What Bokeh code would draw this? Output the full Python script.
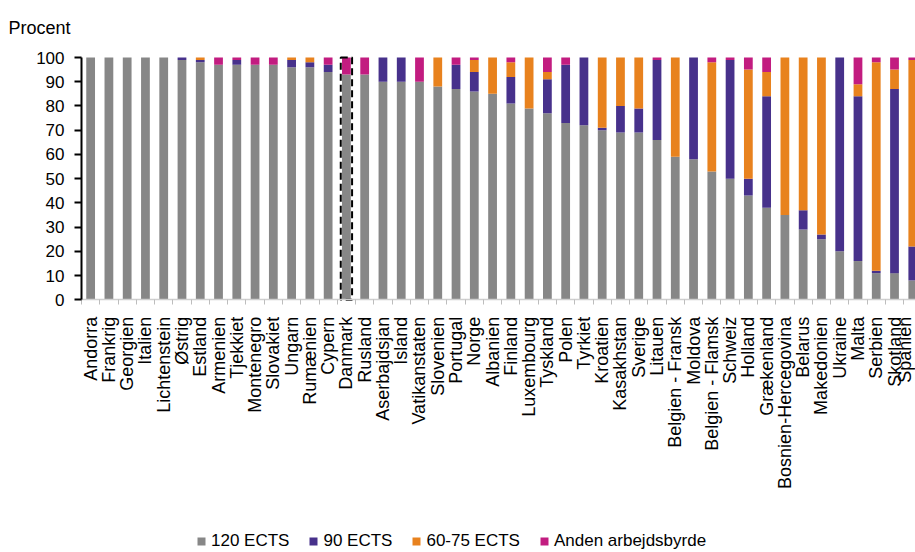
import math
from bokeh.plotting import figure
from bokeh.models import (ColumnDataSource, Range1d, FixedTicker, CustomJSTickFormatter,
                          Legend, LegendItem, Label)
from bokeh.embed import file_html
from bokeh.resources import INLINE

countries = ["Andorra", "Frankrig", "Georgien", "Italien", "Lichtenstein", "Østrig", "Estland",
             "Armenien", "Tjekkiet", "Montenegro", "Slovakiet", "Ungarn", "Rumænien", "Cypern",
             "Danmark", "Rusland", "Aserbajdsjan", "Island", "Vatikanstaten", "Slovenien",
             "Portugal", "Norge", "Albanien", "Finland", "Luxembourg", "Tyskland", "Polen",
             "Tyrkiet", "Kroatien", "Kasakhstan", "Sverige", "Litauen", "Belgien - Fransk",
             "Moldova", "Belgien - Flamsk", "Schweiz", "Holland", "Grækenland",
             "Bosnien-Hercegovina", "Belarus", "Makedonien", "Ukraine", "Malta", "Serbien",
             "Skotland", "Spanien"]

ects120 = [100, 100, 100, 100, 100, 99, 98, 97, 97, 97, 97, 96, 96, 94, 93, 93, 90, 90, 90, 88,
           87, 86, 85, 81, 79, 77, 73, 72, 70, 69, 69, 66, 59, 58, 53, 50, 43, 38, 35, 29, 25,
           20, 16, 11, 11, 8]
ects90 = [0, 0, 0, 0, 0, 1, 1, 0, 2, 0, 0, 3, 2, 3, 0, 0, 10, 10, 0, 0, 10, 8, 0, 11, 0, 14, 24,
          28, 1, 11, 10, 33, 0, 42, 0, 49, 7, 46, 0, 8, 2, 80, 68, 1, 76, 14]
ects60_75 = [0, 0, 0, 0, 0, 0, 1, 0, 0, 0, 0, 1, 2, 0, 0, 0, 0, 0, 0, 12, 0, 5, 15, 6, 21, 3, 0,
             0, 29, 20, 21, 0, 41, 0, 45, 0, 45, 10, 65, 63, 73, 0, 5, 86, 8, 77]
anden = [0, 0, 0, 0, 0, 0, 0, 3, 1, 3, 3, 0, 0, 3, 7, 7, 0, 0, 10, 0, 3, 1, 0, 2, 0, 6, 3, 0, 0,
         0, 0, 1, 0, 0, 2, 1, 5, 6, 0, 0, 0, 0, 11, 2, 5, 1]

series_labels = ["120 ECTS", "90 ECTS", "60-75 ECTS", "Anden arbejdsbyrde"]
colors = ["#878787", "#47318B", "#E8821E", "#C21C80"]
highlight = "Danmark"
y_ticks = list(range(0, 101, 10))
y_title = "Procent"

n = len(countries)
xs = [i + 0.5 for i in range(n)]
totals = [a + b + c + d for a, b, c, d in zip(ects120, ects90, ects60_75, anden)]

src = ColumnDataSource(dict(x=xs, s0=ects120, s1=ects90, s2=ects60_75, s3=anden))

FONT = "Liberation Sans"

# layout: the frame covers the whole canvas; both axes are pinned at 0 so that the
# rotated labels, the "Procent" caption and the legend all live inside the frame.
W, H = 915, 552
AX_X, AX_Y0, AX_Y100 = 81, 299.3, 57          # pixel position of x=0, y=0 and y=100
PITCH = 18.27                                   # pixels per category
ky = (AX_Y0 - AX_Y100) / 100.0
x_range = Range1d(-AX_X / PITCH, (W - AX_X) / PITCH)
y_range = Range1d(-(H - AX_Y0) / ky, 100 + AX_Y100 / ky)

p = figure(width=W, height=H, output_backend="svg", toolbar_location=None, title=None,
           x_range=x_range, y_range=y_range, min_border=0)
p.background_fill_color = "white"
p.border_fill_color = "white"
p.outline_line_color = None
p.xgrid.visible = False
p.ygrid.visible = False

rs = p.vbar_stack(["s0", "s1", "s2", "s3"], x="x", width=0.48, source=src,
                  fill_color=colors, line_color=None)

hi = countries.index(highlight)
hsrc = ColumnDataSource(dict(x=[xs[hi]], top=[totals[hi]]))
p.vbar(x="x", top="top", bottom=0, width=0.62, source=hsrc, fill_color=None,
       line_color="black", line_width=2, line_dash="7 4")

# x axis
xa = p.xaxis[0]
xa.fixed_location = 0
xa.bounds = (0, n)
xa.ticker = FixedTicker(ticks=xs, minor_ticks=list(range(n + 1)))
xa.formatter = CustomJSTickFormatter(args=dict(labels=countries), code="""
const i = Math.floor(tick);
return (i >= 0 && i < labels.length) ? labels[i] : '';
""")
xa.major_label_orientation = math.pi / 2
xa.major_tick_out = 0
xa.major_tick_in = 0
xa.minor_tick_out = 5
xa.minor_tick_in = 0
xa.minor_tick_line_color = "#bdbdbd"
xa.axis_line_color = "#cfcfcf"
xa.axis_line_width = 1.5
xa.major_label_standoff = 12
xa.major_label_text_font_size = "18px"
xa.major_label_text_font = FONT
xa.major_label_text_color = "black"

# y axis
ya = p.yaxis[0]
ya.fixed_location = 0
ya.bounds = (0, 100)
ya.ticker = FixedTicker(ticks=y_ticks)
ya.axis_line_color = "black"
ya.axis_line_width = 2
ya.major_tick_line_color = "black"
ya.major_tick_line_width = 2
ya.major_tick_out = 7
ya.major_tick_in = 0
ya.minor_tick_line_color = None
ya.major_label_standoff = 10
ya.major_label_text_font_size = "17px"
ya.major_label_text_font = FONT
ya.major_label_text_color = "black"

# caption "Procent" at the top left
p.add_layout(Label(x=8, y=H - 27.5, x_units="screen", y_units="screen", text=y_title,
                   text_font=FONT, text_font_size="18px", text_color="black",
                   text_baseline="alphabetic", text_align="left"))

legend = Legend(items=[LegendItem(label=l, renderers=[r]) for l, r in zip(series_labels, rs)],
                location=(196, 1), orientation="horizontal", padding=0, margin=0,
                border_line_color=None, background_fill_alpha=0,
                glyph_width=10, glyph_height=10, label_standoff=5, spacing=19,
                label_text_font=FONT, label_text_font_size="17px", label_text_color="black")
p.add_layout(legend)

open("out.html", "w").write(file_html(p, INLINE))
